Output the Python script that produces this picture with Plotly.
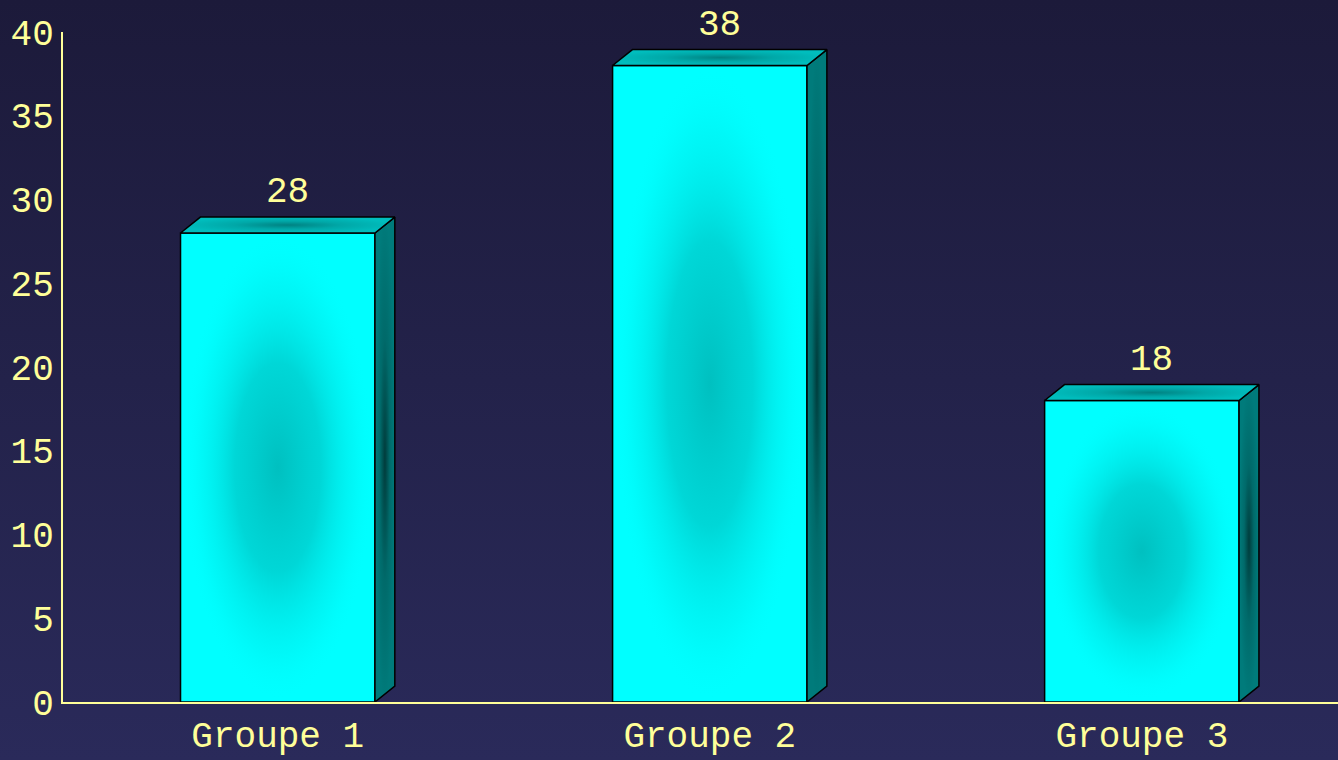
import base64
import plotly.graph_objects as go

categories = ["Groupe 1", "Groupe 2", "Groupe 3"]
values = [28, 38, 18]
y_ticks = [0, 5, 10, 15, 20, 25, 30, 35, 40]

# styling constants (not data)
BAR_W = 0.45
DX = 0.046   # depth offset in x data units
DY = 0.95    # depth offset in y data units
TXT = "#ffff99"
FONT = "Liberation Mono"
W, H = 1338, 760
ML, MR, MT, MB = 63, 0, 32, 58

fig = go.Figure()
xs = list(range(len(categories)))

# front faces
fig.add_trace(go.Bar(
    x=xs, y=values, width=BAR_W,
    marker=dict(color="#00ffff", line=dict(color="black", width=1.5)),
    hoverinfo="skip", showlegend=False,
))

for i, v in zip(xs, values):
    x0, x1 = i - BAR_W / 2, i + BAR_W / 2
    # shading gradient on front face
    fig.add_trace(go.Scatter(
        x=[x0 + 0.004, x1 - 0.004, x1 - 0.004, x0 + 0.004, x0 + 0.004],
        y=[0.1, 0.1, v - 0.1, v - 0.1, 0.1],
        mode="lines", line=dict(width=0, color="rgba(0,0,0,0)"),
        fill="toself",
        fillgradient=dict(type="radial", colorscale=[
            [0.0, "rgba(0,192,192,1)"],
            [0.45, "rgba(0,205,205,0.8)"],
            [0.8, "rgba(0,235,235,0.35)"],
            [1.0, "rgba(0,255,255,0)"],
        ]),
        hoverinfo="skip", showlegend=False,
    ))
    # side face
    fig.add_trace(go.Scatter(
        x=[x1, x1 + DX, x1 + DX, x1, x1],
        y=[0, DY, v + DY, v, 0],
        mode="lines", line=dict(color="black", width=1.5),
        fill="toself",
        fillgradient=dict(type="radial", colorscale=[
            [0.0, "#003c3c"], [0.5, "#006a6a"], [1.0, "#007b7b"],
        ]),
        hoverinfo="skip", showlegend=False,
    ))
    # top face
    fig.add_trace(go.Scatter(
        x=[x0, x0 + DX, x1 + DX, x1, x0],
        y=[v, v + DY, v + DY, v, v],
        mode="lines", line=dict(color="black", width=1.5),
        fill="toself",
        fillgradient=dict(type="radial", colorscale=[
            [0.0, "#008282"], [0.5, "#00a8a8"], [1.0, "#00bdbd"],
        ]),
        hoverinfo="skip", showlegend=False,
    ))
    fig.add_annotation(
        x=i + DX / 2, y=v + DY, text=str(v), showarrow=False,
        yanchor="bottom", yshift=2,
        font=dict(family=FONT, size=36, color=TXT),
    )

svg = (
    f'<svg xmlns="http://www.w3.org/2000/svg" width="{W}" height="{H}" preserveAspectRatio="none">'
    '<defs><linearGradient id="g" x1="0" y1="0" x2="0" y2="1">'
    '<stop offset="0" stop-color="#1c1a3a"/><stop offset="1" stop-color="#2a2a5a"/>'
    '</linearGradient></defs>'
    f'<rect width="{W}" height="{H}" fill="url(#g)"/></svg>'
)
src = "data:image/svg+xml;base64," + base64.b64encode(svg.encode()).decode()
pw, ph = W - ML - MR, H - MT - MB

fig.update_layout(
    width=W, height=H,
    margin=dict(l=ML, r=MR, t=MT, b=MB, pad=0),
    paper_bgcolor="#24234a",
    plot_bgcolor="rgba(0,0,0,0)",
    images=[dict(source=src, xref="paper", yref="paper",
                 x=-ML / pw, y=1 + MT / ph, sizex=W / pw, sizey=H / ph,
                 xanchor="left", yanchor="top", sizing="stretch", layer="below")],
    xaxis=dict(
        range=[-0.497, 2.454], tickvals=xs, ticktext=categories, automargin=False,
        showgrid=False, zeroline=False, showline=True, linecolor=TXT, linewidth=2,
        ticks="", tickfont=dict(family=FONT, size=36, color=TXT),
    ),
    yaxis=dict(
        range=[0, 40], tickvals=y_ticks, automargin=False,
        showgrid=False, zeroline=False, showline=True, linecolor=TXT, linewidth=2,
        ticks="", tickfont=dict(family=FONT, size=36, color=TXT),
    ),
    showlegend=False,
)

fig.write_html(
    "out.html",
    config={"displayModeBar": False},
    post_script="document.body.style.margin='0';document.body.style.overflow='hidden';"
                "document.documentElement.style.background='#2a2a5a';",
)
